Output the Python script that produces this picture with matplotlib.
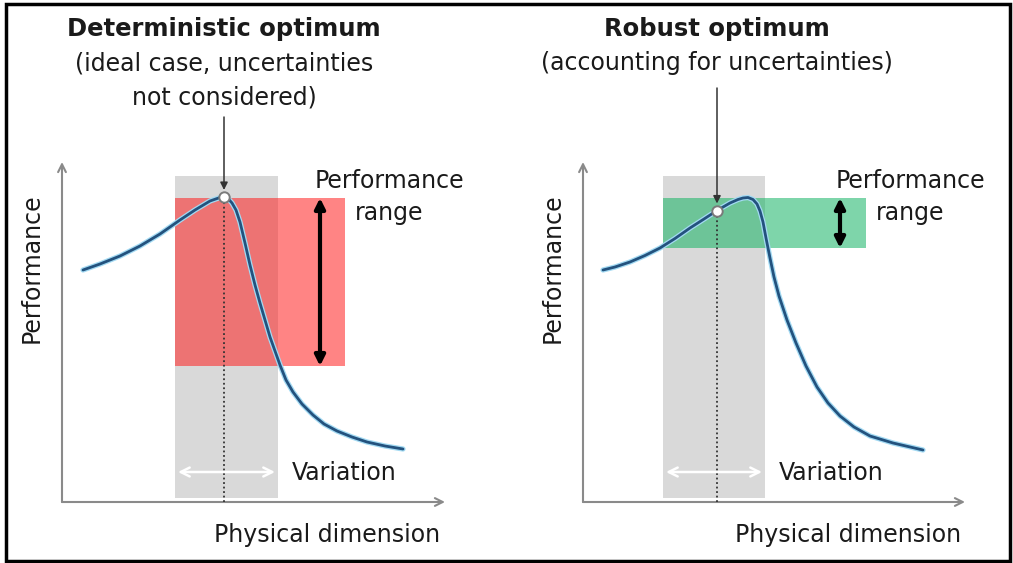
import matplotlib.pyplot as plt
from matplotlib.patches import Rectangle

# Performance vs physical dimension (arbitrary units, origin at the axes corner)
det_x = [21, 38, 58, 78, 98, 118, 133, 148, 158, 162, 166, 170, 174, 178, 183, 188,
         193, 198, 203, 208, 213, 218, 224, 231, 240, 251, 262, 275, 290, 305, 323, 341]
det_y = [232, 238, 246, 256, 268, 282, 292, 301, 304.5, 305, 303.5, 299, 292, 280, 259, 237,
         217, 199, 182, 165, 151, 137, 122, 110, 98, 87, 78, 71, 65, 60, 56, 53]

rob_x = [20, 32, 47, 62, 77, 92, 107, 121, 134, 147, 155, 160, 165, 170, 174, 177,
         180, 183, 187, 191, 196, 204, 213, 223, 234, 245, 257, 271, 287, 310, 340]
rob_y = [232, 235, 240, 246.5, 254, 263.5, 274, 283, 291.5, 299, 302.5, 304, 304.5, 302.5, 298, 291,
         280, 264, 244, 225, 206, 182, 159, 136, 115, 99, 86, 75, 66, 59, 52]

# chosen design point
det_opt = (162, 305)
rob_opt = (134, 291.5)

# variation band of the physical dimension
det_var = (113, 216)
rob_var = (80, 182)

# resulting performance range
det_range = (136, 304)
rob_range = (254, 304)

titles = ['Deterministic optimum', 'Robust optimum']
subtitles = [['(ideal case, uncertainties', 'not considered)'],
             ['(accounting for uncertainties)']]

fig = plt.figure(figsize=(10.13, 5.63), dpi=100)
ax_l = fig.add_axes([0, 0, 0.5, 1])
ax_r = fig.add_axes([0.5, 0, 0.5, 1])
ax_l.set_xlim(-62, 444.5)
ax_r.set_xlim(-76.5, 430)
for ax in (ax_l, ax_r):
    ax.set_ylim(-61, 502)
    ax.set_axis_off()


def draw_panel(ax, cx, cy, opt, var, rng, fill, title, sub, range_x, ptr_top, x_end):
    ax.add_patch(Rectangle((var[0], 4), var[1] - var[0], 322,
                           facecolor='#d9d9d9', edgecolor='none', zorder=1))
    ax.add_patch(Rectangle((var[0], rng[0]), 283 - var[0], rng[1] - rng[0],
                           facecolor=fill, alpha=0.55, edgecolor='none', zorder=2))

    # axes drawn as arrows
    for end in [(x_end, 0), (0, 340)]:
        ax.annotate('', xy=end, xytext=(0, 0),
                    arrowprops=dict(arrowstyle='->', color='#8a8a8a', lw=1.5,
                                    shrinkA=0, shrinkB=0, mutation_scale=14))

    # dotted drop line from the design point
    ax.plot([opt[0], opt[0]], [0, opt[1]], color='#333333', lw=1.3,
            linestyle=(0, (1, 1.5)), zorder=3)

    # curve with a light-blue halo
    ax.plot(cx, cy, color='#a3daf3', lw=3.8, solid_capstyle='round',
            solid_joinstyle='round', zorder=4)
    ax.plot(cx, cy, color='#23527e', lw=2.0, solid_capstyle='round',
            solid_joinstyle='round', zorder=5)

    ax.plot(opt[0], opt[1], 'o', ms=7.5, mfc='white', mec='#7a7a7a', mew=1.4, zorder=6)

    # pointer from heading to the design point
    ax.annotate('', xy=(opt[0], opt[1] + 7), xytext=(opt[0], ptr_top),
                arrowprops=dict(arrowstyle='-|>', color='#333333', lw=1.1,
                                shrinkA=0, shrinkB=0, mutation_scale=11), zorder=6)

    # performance range
    ax.annotate('', xy=(range_x, rng[1]), xytext=(range_x, rng[0]),
                arrowprops=dict(arrowstyle='<|-|>', color='black', lw=3.0,
                                shrinkA=0, shrinkB=0, mutation_scale=15), zorder=6)

    # variation
    ax.annotate('', xy=(var[1] - 3, 30), xytext=(var[0] + 3, 30),
                arrowprops=dict(arrowstyle='<->', color='white', lw=1.8,
                                shrinkA=0, shrinkB=0, mutation_scale=16), zorder=6)

    ax.text(327, 321, 'Performance', ha='center', va='center', fontsize=17, color='#1a1a1a')
    ax.text(327, 289, 'range', ha='center', va='center', fontsize=17, color='#1a1a1a')
    ax.text(var[1] + 14, 29, 'Variation', ha='left', va='center', fontsize=17,
            color='#1a1a1a')
    ax.text(265, -33, 'Physical dimension', ha='center', va='center', fontsize=17,
            color='#1a1a1a')
    ax.text(-30, 234, 'Performance', ha='center', va='center', fontsize=17,
            rotation=90, color='#1a1a1a')

    ax.text(opt[0], 473, title, ha='center', va='center', fontsize=17.5,
            fontweight='bold', color='#1a1a1a')
    for i, line in enumerate(sub):
        ax.text(opt[0], 439 - i * 34, line, ha='center', va='center', fontsize=17,
                color='#1a1a1a')


draw_panel(ax_l, det_x, det_y, det_opt, det_var, det_range, '#ff2020',
           titles[0], subtitles[0], 258, 385, 383)
draw_panel(ax_r, rob_x, rob_y, rob_opt, rob_var, rob_range, '#14b464',
           titles[1], subtitles[1], 257, 414, 382)

# outer frame
fig.patches.append(Rectangle((6 / 1013, 2 / 563), 1004 / 1013, 557 / 563,
                             transform=fig.transFigure, fill=False,
                             edgecolor='black', lw=2.5))

fig.savefig('out.png', dpi=100)
